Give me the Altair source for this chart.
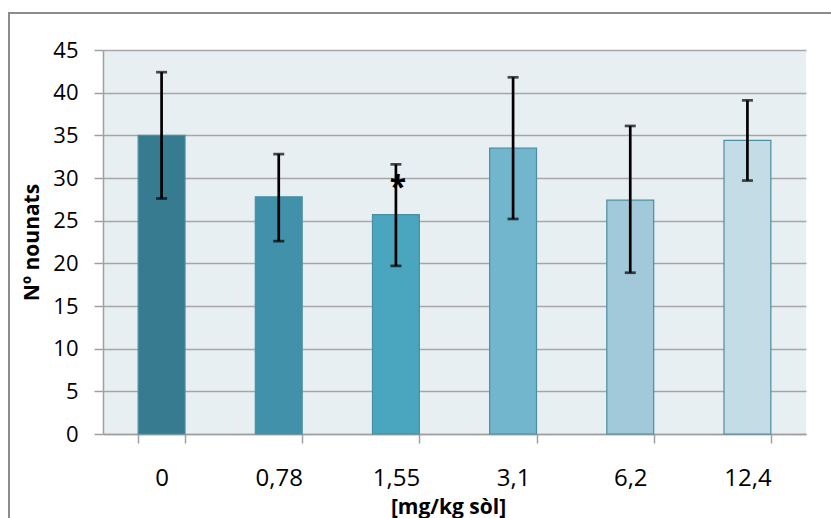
import altair as alt
import pandas as pd

categories = ["0", "0,78", "1,55", "3,1", "6,2", "12,4"]
means = [35.0, 27.8, 25.7, 33.5, 27.4, 34.4]
err_low = [27.6, 22.6, 19.7, 25.2, 18.9, 29.7]
err_high = [42.4, 32.8, 31.6, 41.8, 36.1, 39.1]
bar_colors = ["#367B8F", "#4191AA", "#4AA5BF", "#72B6CD", "#A2C9D9", "#C3DCE5"]

star_category = ["1,55"]
star_value = [29.6]
star_text = ["*"]

df = pd.DataFrame({"cat": categories, "mean": means, "lo": err_low, "hi": err_high})
star_df = pd.DataFrame({"cat": star_category, "v": star_value, "t": star_text})

FONT = "Open Sans"
W, H = 703, 384

x_enc = alt.X(
    "cat:N",
    sort=categories,
    scale=alt.Scale(paddingInner=0.6, paddingOuter=0.3),
    axis=alt.Axis(
        title="[mg/kg sòl]",
        titleFont=FONT,
        titleFontSize=21,
        titleFontWeight="bold",
        titleColor="#000000",
        titleX=345,
        titleY=79,
        titleBaseline="alphabetic",
        titleAnchor="middle",
        labelFont=FONT,
        labelFontSize=24,
        labelColor="#000000",
        labelAngle=0,
        labelPadding=23,
        tickBand="extent",
        tickSize=9,
        tickColor="#A0A0A0",
        tickWidth=1.5,
        domainColor="#A0A0A0",
        domainWidth=1.5,
        grid=False,
    ),
)

y_scale = alt.Scale(domain=[0, 45], nice=False)
y_axis = alt.Axis(
    title="Nº nounats",
    titleFont=FONT,
    titleFontSize=21,
    titleFontWeight="bold",
    titleColor="#000000",
    titleAngle=-90,
    titleX=-71,
    titleY=H / 2,
    titleBaseline="middle",
    titleAlign="center",
    labelFont=FONT,
    labelFontSize=22,
    labelColor="#000000",
    labelPadding=16,
    values=list(range(0, 46, 5)),
    tickSize=9,
    tickColor="#A0A0A0",
    tickWidth=1.5,
    domainColor="#A0A0A0",
    domainWidth=1.5,
    grid=True,
    gridColor="#A6A6A6",
    gridWidth=1.5,
)

frame = alt.Chart(pd.DataFrame({"a": [0]})).mark_rect(
    fill=None, stroke="#8C8C8C", strokeWidth=2, clip=False
).encode(
    x=alt.value(-94), x2=alt.value(W + 60),
    y=alt.value(-37), y2=alt.value(H + 120),
)

bars = alt.Chart(df).mark_bar(stroke="#4A8EA2", strokeWidth=1.2).encode(
    x=x_enc,
    y=alt.Y("mean:Q", scale=y_scale, axis=y_axis),
    color=alt.Color("cat:N", sort=categories,
                    scale=alt.Scale(domain=categories, range=bar_colors), legend=None),
)

err = alt.Chart(df).mark_rule(color="#000000", strokeWidth=2.7).encode(
    x=alt.X("cat:N", sort=categories),
    y=alt.Y("lo:Q", scale=y_scale),
    y2="hi:Q",
)

cap_hi = alt.Chart(df).mark_tick(color="#000000", orient="horizontal", size=11, thickness=2.7).encode(
    x=alt.X("cat:N", sort=categories),
    y=alt.Y("hi:Q", scale=y_scale),
)
cap_lo = alt.Chart(df).mark_tick(color="#000000", orient="horizontal", size=11, thickness=2.7).encode(
    x=alt.X("cat:N", sort=categories),
    y=alt.Y("lo:Q", scale=y_scale),
)

star = alt.Chart(star_df).mark_text(
    font=FONT, fontSize=30, fontWeight="bold", color="#000000",
    baseline="middle", align="center", dx=2, dy=7,
).encode(
    x=alt.X("cat:N", sort=categories),
    y=alt.Y("v:Q", scale=y_scale),
    text="t:N",
)

chart = alt.layer(frame, bars, err, cap_hi, cap_lo, star).properties(
    width=W, height=H,
    autosize=alt.AutoSizeParams(type="none"),
    padding={"left": 103, "top": 50, "right": 25, "bottom": 84},
    background="#FFFFFF",
).configure_view(
    fill="#E8EFF2", stroke=None,
)

chart.save("out.html", embed_options={"renderer": "svg", "actions": False})
